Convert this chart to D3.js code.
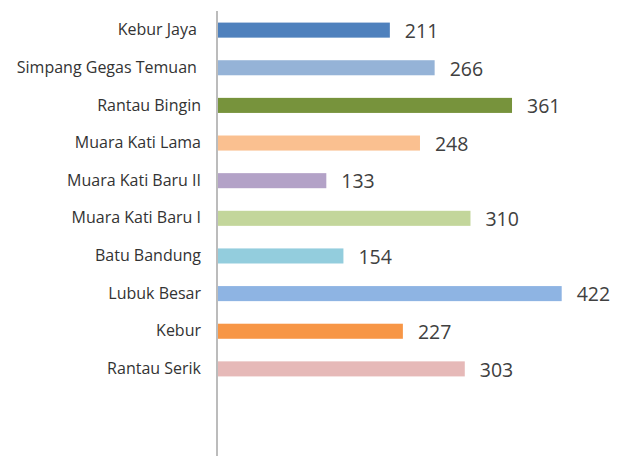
<!DOCTYPE html>
<html>
<head>
<meta charset="utf-8">
<script src="https://cdn.jsdelivr.net/npm/d3@7"></script>
<style>
  body { margin: 0; background: #fff; }
  text { font-family: "Open Sans", sans-serif; white-space: pre; }
</style>
</head>
<body>
<div id="chart"></div>
<script>
var svgWidth = 626;
var svgHeight = 456;

// data
var villages = ["Kebur Jaya ", "Simpang Gegas Temuan ", "Rantau Bingin", "Muara Kati Lama",
    "Muara Kati Baru II", "Muara Kati Baru I", "Batu Bandung", "Lubuk Besar", "Kebur", "Rantau Serik"];
var counts = [211, 266, 361, 248, 133, 310, 154, 422, 227, 303];
var barColors = ["#4f81bd", "#95b3d7", "#77933c", "#fac090", "#b3a2c7",
    "#c3d69b", "#93cddd", "#8eb4e3", "#f79646", "#e6b9b8"];

var data = villages.map((v, i) => ({ name: v, value: counts[i], color: barColors[i] }));

var svg = d3.select("#chart")
    .append("svg")
    .attr("width", svgWidth)
    .attr("height", svgHeight);

var xLinearScale = d3.scaleLinear()
    .domain([0, 450])
    .range([218, 584.5]);

var yBand = d3.scaleBand()
    .domain(villages)
    .range([0, 399])
    .padding(0.6);

// category labels
var leftAxis = d3.axisLeft(yBand).tickSize(0).tickPadding(17);
var yAxis = svg.append("g")
    .attr("transform", "translate(218, 0)")
    .call(leftAxis);
yAxis.select(".domain").remove();
yAxis.selectAll("text")
    .attr("font-size", "16px")
    .attr("fill", "#333333")
    .style("font-family", "'Open Sans', sans-serif");

// axis line runs past the last bar
svg.append("line")
    .attr("x1", 217).attr("x2", 217)
    .attr("y1", 11).attr("y2", svgHeight)
    .attr("stroke", "#a6a6a6")
    .attr("stroke-width", 1.5);

svg.selectAll(".bar")
    .data(data)
    .enter()
    .append("rect")
    .attr("class", "bar")
    .attr("x", xLinearScale(0))
    .attr("y", d => yBand(d.name))
    .attr("width", d => xLinearScale(d.value) - xLinearScale(0))
    .attr("height", yBand.bandwidth())
    .attr("fill", d => d.color);

svg.selectAll(".val")
    .data(data)
    .enter()
    .append("text")
    .attr("class", "val")
    .attr("x", d => xLinearScale(d.value) + 15)
    .attr("y", d => yBand(d.name) + yBand.bandwidth() / 2)
    .attr("dy", "0.4em")
    .attr("font-size", "19.5px")
    .attr("fill", "#404040")
    .text(d => d.value);
</script>
</body>
</html>
